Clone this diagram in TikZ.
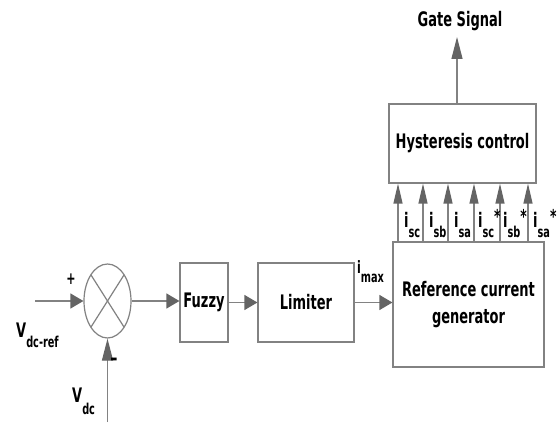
\documentclass[tikz,border=0pt]{standalone}
\usepackage{fontspec}
\setmainfont{DejaVu Sans}[FakeStretch=0.65]
\usetikzlibrary{arrows.meta,shapes.geometric,calc}
\definecolor{ln}{RGB}{130,130,130}
\definecolor{hd}{RGB}{100,100,100}
\newcommand\bigf{\fontsize{20}{23}\selectfont\bfseries}
\newcommand\subf{\fontsize{15}{15}\selectfont\bfseries}
\newcommand\starf{\fontsize{19}{19}\selectfont\bfseries}
\newcommand\curlab[2]{i\raisebox{-10pt}{\subf #1}\raisebox{3pt}{\starf #2}}
\begin{document}
\begin{tikzpicture}[x=1pt,y=-1pt,
  box/.style={draw=ln, line width=1.2pt, inner sep=0pt, font=\bigf, align=center},
  arr/.style={draw=ln, line width=1.2pt, -{Triangle[length=13pt,width=15pt,color=hd]}},
  varr/.style={draw=ln, line width=1.2pt, -{Triangle[length=20pt,width=9pt,color=hd]}},
  garr/.style={draw=ln, line width=1.2pt, -{Triangle[length=22pt,width=11pt,color=hd]}},
  lbl/.style={inner sep=0pt, font=\bigf}]
\useasboundingbox[fill=white] (0,0) rectangle (560,425);

% blocks
\node[draw=ln, line width=1.2pt, ellipse, minimum width=47pt, minimum height=74pt, inner sep=0pt] (sum) at (107.5,301) {};
\draw[ln, line width=1.2pt] ($(sum.center)+(-16.6,-26.2)$) -- ($(sum.center)+(16.6,26.2)$);
\draw[ln, line width=1.2pt] ($(sum.center)+(16.6,-26.2)$) -- ($(sum.center)+(-16.6,26.2)$);
\node[box, minimum width=48pt, minimum height=79pt] (fuzzy) at (204,302.5) {Fuzzy};
\node[box, minimum width=96pt, minimum height=79pt] (lim) at (306,302.5) {Limiter};
\node[box, minimum width=151pt, minimum height=125pt] (rcg) at (468.5,304.5) {Reference current\\[4pt]generator};
\node[box, minimum width=147pt, minimum height=79pt] (hyst) at (462.5,143.5) {Hysteresis control};
\node[lbl, anchor=south] (gate) at (460,31) {Gate Signal};

% inputs
\coordinate (vin) at (35,301);
\coordinate (vdcin) at (107.5,422);
\draw[arr] (vin) -- (sum.west);
\draw[garr] (vdcin) -- (sum.south);
\node[lbl, anchor=base west] (vref) at (16,337) {V\raisebox{-10pt}{\subf dc-ref}};
\node[lbl, anchor=base west] (vdc) at (72,402) {V\raisebox{-12pt}{\subf dc}};
\node[lbl, font=\fontsize{17}{17}\selectfont\bfseries] (plus) at (71,279) {+};
\node[lbl, font=\fontsize{22}{22}\selectfont\bfseries] (minus) at (114,362) {–};

% chain
\draw[arr] (sum.east) -- (sum.east -| fuzzy.west);
\draw[arr] (fuzzy.east) -- (fuzzy.east -| lim.west);
\draw[arr] (lim.east) -- (lim.east -| rcg.west);
\node[lbl, anchor=base west, font=\fontsize{17}{17}\selectfont\bfseries] (imax) at (357,273) {i\raisebox{-9pt}{\subf max}};

% reference currents
\foreach \n/\x in {1/398,2/423,3/448,4/474,5/500,6/528}{
  \coordinate (a\n) at (\x,0);
  \draw[varr] (rcg.north -| a\n) -- (hyst.south -| a\n);
}
\node[lbl, anchor=base west] (l1) at (404,227) {\curlab{sc}{}};
\node[lbl, anchor=base west] (l2) at (429,227) {\curlab{sb}{}};
\node[lbl, anchor=base west] (l3) at (454,227) {\curlab{sa}{}};
\node[lbl, anchor=base west] (l4) at (478,227) {\curlab{sc}{*}};
\node[lbl, anchor=base west] (l5) at (503,227) {\curlab{sb}{*}};
\node[lbl, anchor=base west] (l6) at (533,227) {\curlab{sa}{*}};

% output
\coordinate (gx) at (457,0);
\draw[garr, shorten >=6pt] (hyst.north -| gx) -- (gate.south -| gx);
\end{tikzpicture}
\end{document}
